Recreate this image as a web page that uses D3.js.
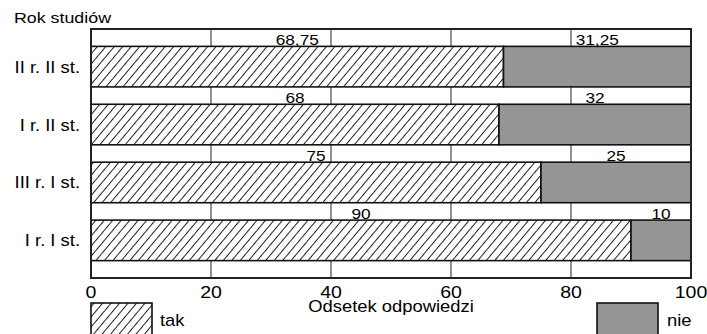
<!DOCTYPE html>
<html><head><meta charset="utf-8">
<script src="https://cdn.jsdelivr.net/npm/d3@7"></script>
<style>body{margin:0;background:#fff;} text{font-family:"Liberation Sans",Arial,sans-serif;fill:#000;}</style>
</head><body><svg id="c" width="707" height="334"></svg>
<script>
const categories = ["II r. II st.", "I r. II st.", "III r. I st.", "I r. I st."];
const takValues = [68.75, 68, 75, 90];
const nieValues = [31.25, 32, 25, 10];
const takLabels = ["68,75", "68", "75", "90"];
const nieLabels = ["31,25", "32", "25", "10"];
const xTicks = [0, 20, 40, 60, 80, 100];
const seriesNames = ["tak", "nie"];

const svg = d3.select("#c");
const L = 91, R = 691, T = 29, B = 278;
const SX = 1.15;
const x = d3.scaleLinear().domain([0, 100]).range([L, R]);
const y = d3.scaleBand().domain(categories).range([T, B]).paddingInner(0.3).paddingOuter(0.3);
const gray = "#959595";
const tf = (px, py) => `translate(${px},${py}) scale(${SX},1)`;

const defs = svg.append("defs");
const pat = defs.append("pattern").attr("id", "hatch").attr("patternUnits", "userSpaceOnUse")
  .attr("width", 6.5).attr("height", 10).attr("patternTransform", "rotate(40)");
pat.append("rect").attr("width", 6.5).attr("height", 10).attr("fill", "#fff");
pat.append("line").attr("x1", 0.5).attr("y1", 0).attr("x2", 0.5).attr("y2", 10).attr("stroke", "#000").attr("stroke-width", 0.9);

// background and gridlines
svg.append("rect").attr("x", L).attr("y", T).attr("width", R - L).attr("height", B - T).attr("fill", "#fff");
svg.append("g").selectAll("line").data(xTicks.slice(1, -1)).join("line")
  .attr("x1", d => x(d)).attr("x2", d => x(d)).attr("y1", T).attr("y2", B)
  .attr("stroke", "#222").attr("stroke-width", 1);

// bars
const rows = categories.map((c, i) => ({c, tak: takValues[i], nie: nieValues[i], tl: takLabels[i], nl: nieLabels[i]}));
const g = svg.append("g");
g.selectAll("rect.tak").data(rows).join("rect").attr("class", "tak")
  .attr("x", x(0)).attr("y", d => y(d.c)).attr("width", d => x(d.tak) - x(0)).attr("height", y.bandwidth())
  .attr("fill", "url(#hatch)").attr("stroke", "#111").attr("stroke-width", 1.6);
g.selectAll("rect.nie").data(rows).join("rect").attr("class", "nie")
  .attr("x", d => x(d.tak)).attr("y", d => y(d.c)).attr("width", d => x(d.tak + d.nie) - x(d.tak)).attr("height", y.bandwidth())
  .attr("fill", gray).attr("stroke", "#111").attr("stroke-width", 1.6);

// value labels
g.selectAll("text.tl").data(rows).join("text").attr("class", "tl")
  .attr("transform", d => tf(x(d.tak / 2), y(d.c) - 1)).attr("text-anchor", "middle")
  .attr("font-size", 15).text(d => d.tl);
g.selectAll("text.nl").data(rows).join("text").attr("class", "nl")
  .attr("transform", d => tf(x(d.tak + d.nie / 2), y(d.c) - 1)).attr("text-anchor", "middle")
  .attr("font-size", 15).text(d => d.nl);

// frame
svg.append("rect").attr("x", L).attr("y", T).attr("width", R - L).attr("height", B - T)
  .attr("fill", "none").attr("stroke", "#222").attr("stroke-width", 2);

// category labels
svg.append("g").selectAll("text").data(categories).join("text")
  .attr("transform", d => tf(80, y(d) + y.bandwidth() / 2 + 6)).attr("text-anchor", "end")
  .attr("font-size", 16).text(d => d);

// x tick labels
svg.append("g").selectAll("text").data(xTicks).join("text")
  .attr("transform", d => tf(x(d), 298)).attr("text-anchor", "middle").attr("font-size", 17).text(d => d);

svg.append("text").attr("transform", tf((L + R) / 2, 312)).attr("text-anchor", "middle").attr("font-size", 16).text("Odsetek odpowiedzi");
svg.append("text").attr("transform", tf(14, 23)).attr("font-size", 15.5).text("Rok studiów");

// legend
const lg = svg.append("g");
const legendPos = [{n: seriesNames[0], fill: "url(#hatch)", bx: 91, tx: 160}, {n: seriesNames[1], fill: gray, bx: 597, tx: 667}];
lg.selectAll("rect").data(legendPos).join("rect")
  .attr("x", d => d.bx).attr("y", 303).attr("width", 61).attr("height", 40)
  .attr("fill", d => d.fill).attr("stroke", "#111").attr("stroke-width", 1.6);
lg.selectAll("text").data(legendPos).join("text")
  .attr("transform", d => tf(d.tx, 326)).attr("font-size", 16).text(d => d.n);
</script></body></html>
